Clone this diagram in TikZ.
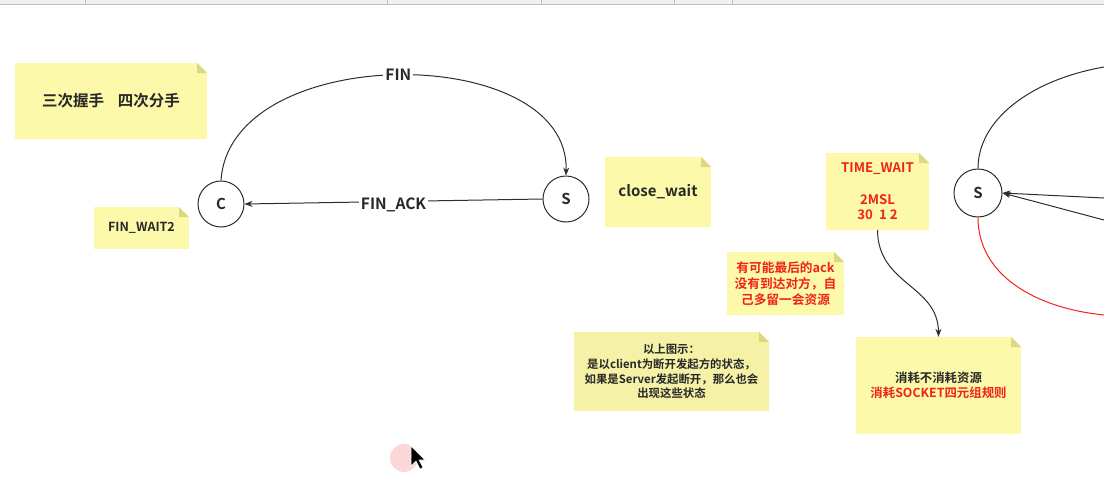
\documentclass[tikz,border=0pt]{standalone}
\usepackage{fontspec}
\setmainfont{Noto Sans CJK SC}[BoldFont={Noto Sans CJK SC Bold}]
\usetikzlibrary{arrows.meta}
\definecolor{noteyellow}{RGB}{252,250,170}
\definecolor{notegray}{RGB}{245,242,168}
\definecolor{notefold}{RGB}{220,215,128}
\definecolor{linegray}{RGB}{45,45,45}
\definecolor{textred}{RGB}{240,35,25}
\definecolor{textdark}{RGB}{40,40,40}
\definecolor{cursorpink}{RGB}{252,205,205}

\begin{document}
\begin{tikzpicture}[x=1pt,y=-1pt,
    note/.style={fill=noteyellow,inner sep=0pt,align=center,text=textdark,
        path picture={
            \fill[white] ([xshift=-10pt]path picture bounding box.north east)
                -- (path picture bounding box.north east)
                -- ([yshift=-10pt]path picture bounding box.north east) -- cycle;
            \fill[notefold] ([xshift=-10pt]path picture bounding box.north east)
                -- ([xshift=-10pt,yshift=-10pt]path picture bounding box.north east)
                -- ([yshift=-10pt]path picture bounding box.north east) -- cycle;}},
    state/.style={circle,draw=linegray,line width=1pt,minimum size=46pt,inner sep=0pt,
        text=textdark,font=\bfseries\fontsize{15}{17}\selectfont},
    link/.style={draw=linegray,line width=1pt,-{Stealth[length=8pt,width=6pt]}},
    label/.style={fill=white,inner sep=2pt,text=textdark,font=\bfseries\fontsize{15.5}{17}\selectfont}]
\useasboundingbox (0,0) rectangle (1104,490);
\fill[gray!12] (0,0) rectangle (1104,4.5);
\draw[gray!50] (0,4.5) -- (1104,4.5);
\foreach \x in {85,387,541,674,732}
    \draw[gray!50] (\x,0) -- (\x,4.5);

\node[note,minimum width=192pt,minimum height=76pt,font=\bfseries\fontsize{15.5}{17}\selectfont]
    (title) at (111,101) {三次握手\hspace{0.9em}四次分手};
\node[note,minimum width=95pt,minimum height=42pt,font=\bfseries\fontsize{12.5}{14}\selectfont]
    (finwait) at (141.5,228) {FIN\_WAIT2};
\node[note,minimum width=106pt,minimum height=70pt,font=\bfseries\fontsize{15}{17}\selectfont]
    (closewait) at (658,192) {close\_wait};
\node[note,minimum width=103pt,minimum height=77pt,text=textred,font=\bfseries\fontsize{13.2}{15}\selectfont]
    (tw) at (877.5,191.5) {TIME\_WAIT\\[17pt]2MSL\\30\ \ 1 2};
\node[note,minimum width=117pt,minimum height=63pt,text=textred,font=\bfseries\fontsize{12.7}{16}\selectfont]
    (maybe) at (785.5,283.5) {有可能最后的ack\\没有到达对方，自\\己多留一会资源};
\node[note,fill=notegray,minimum width=195pt,minimum height=79pt,font=\bfseries\fontsize{11.4}{14.7}\selectfont]
    (remark) at (671.5,371.5) {以上图示：\\是以client为断开发起方的状态，\\如果是Server发起断开，那么也会\\出现这些状态};
\node[note,minimum width=165pt,minimum height=97pt,font=\bfseries\fontsize{12.4}{15}\selectfont]
    (cost) at (938.5,385.5) {消耗不消耗资源\\\textcolor{textred}{消耗SOCKET四元组规则}};

\node[state] (c) at (221,204) {C};
\node[state] (s) at (566,199) {S};
\node[state,minimum size=48pt] (s2) at (978,193) {S};
\coordinate (topexit) at (1104,67);
\coordinate (redexit) at (1104,315);
\coordinate (in1) at (1104,198);
\coordinate (in2) at (1104,220);

\draw[link] (c.north) .. controls (230,41) and (570,41) .. (s.north)
    node[label,pos=0.5] (fin) {FIN};
\draw[link] (s.west) -- (c.east) node[label,midway,yshift=-3pt] (finack) {FIN\_ACK};
\draw[draw=linegray,line width=1pt] (s2.north) .. controls (978,120) and (1030,80) .. (topexit);
\draw[draw=textred,line width=1pt] (s2.south) .. controls (978,275) and (1035,308) .. (redexit);
\draw[link] (in1) -- (s2.east);
\draw[link] (in2) -- (s2.east);
\draw[link] (tw.south) .. controls (878,285) and (938,285) .. (cost.north);

\fill[cursorpink,opacity=0.8] (404,458) circle (14);
\filldraw[fill=black,draw=white,line width=0.6pt] (411,446) -- (411,466) -- (416,461)
    -- (420,469) -- (423,467.5) -- (419,460) -- (425,460) -- cycle;
\end{tikzpicture}
\end{document}
